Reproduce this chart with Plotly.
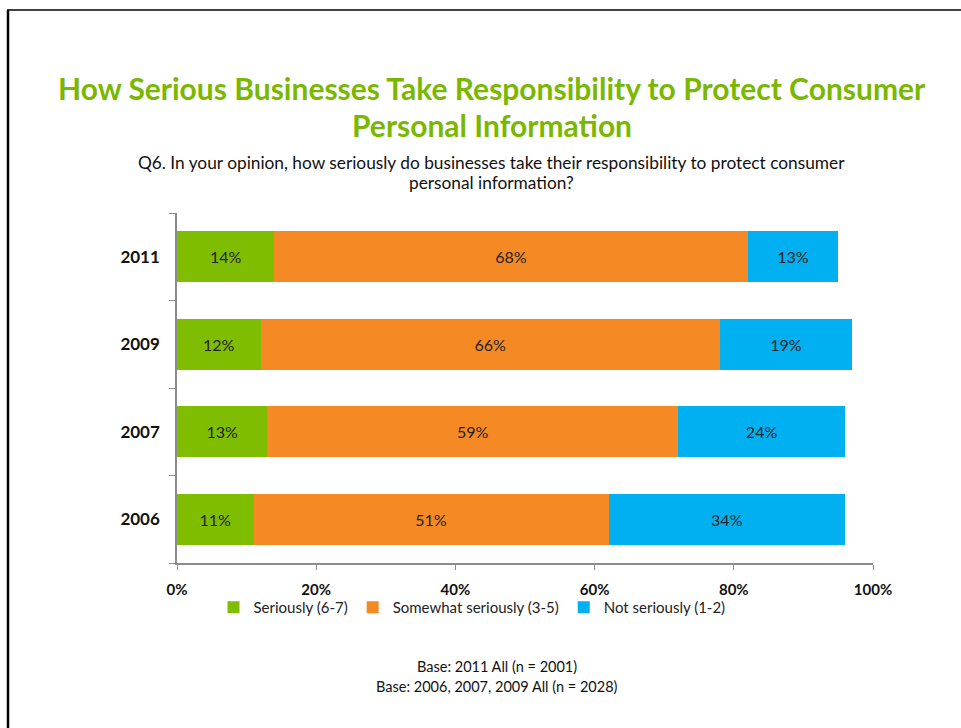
import plotly.graph_objects as go

# Survey results (percent of respondents)
years = ["2006", "2007", "2009", "2011"]
seriously = [11, 13, 12, 14]
somewhat = [51, 59, 66, 68]
not_seriously = [34, 24, 19, 13]

series = [
    ("Seriously (6-7)", seriously, "#7FBD00"),
    ("Somewhat seriously (3-5)", somewhat, "#F58A25"),
    ("Not seriously (1-2)", not_seriously, "#00B0F0"),
]

x_ticks = [0, 20, 40, 60, 80, 100]

FONT = "Lato"
W, H = 961, 728
L, R, T, B = 177, 88, 213, 165
PW, PH = W - L - R, H - T - B


def px(x):
    return (x - L) / PW


def py(y):
    return (H - B - y) / PH


fig = go.Figure()
for name, vals, color in series:
    fig.add_trace(go.Bar(
        y=years, x=vals, name=name, orientation="h",
        marker=dict(color=color, line=dict(width=0)),
        text=[f"{v}%" for v in vals], textposition="inside",
        insidetextanchor="middle", textangle=0, constraintext="none",
        textfont=dict(family=FONT, size=16, color="#222222"),
        hoverinfo="skip",
    ))

axis_color = "#8C8C8C"
fig.update_layout(
    width=W, height=H,
    margin=dict(l=L, r=R, t=T, b=B, pad=0),
    barmode="stack", bargap=0.42,
    paper_bgcolor="white", plot_bgcolor="white",
    font=dict(family=FONT, color="#000000"),
    showlegend=True,
    legend=dict(
        orientation="h", x=px(472), xanchor="center", y=py(591), yanchor="top",
        font=dict(family=FONT, size=15, color="#222222"),
        itemwidth=30, traceorder="normal", itemclick=False,
        bgcolor="rgba(0,0,0,0)", tracegroupgap=0,
    ),
    xaxis=dict(
        range=[0, 100], tickvals=x_ticks, ticktext=[f"{v}%" for v in x_ticks],
        showgrid=False, zeroline=False, showline=True, linecolor=axis_color,
        linewidth=1.5, ticks="outside", ticklen=5, tickcolor=axis_color,
        ticklabelstandoff=7,
        tickfont=dict(family=FONT, size=15, color="#111111", weight="bold"),
        fixedrange=True,
    ),
    yaxis=dict(
        categoryorder="array", categoryarray=years,
        showgrid=False, zeroline=False, showline=True, linecolor=axis_color,
        linewidth=1.5, ticks="outside", ticklen=6, tickcolor=axis_color,
        tickson="boundaries", ticklabelstandoff=12,
        tickfont=dict(family=FONT, size=17, color="#111111", weight="bold"),
        fixedrange=True,
    ),
)

annotations = [
    ("How Serious Businesses Take Responsibility to Protect Consumer", 492, 88, 30, "#7AB800", "bold"),
    ("Personal Information", 492, 125, 30, "#7AB800", "bold"),
    ("Q6. In your opinion, how seriously do businesses take their responsibility to protect consumer", 491, 162, 17.3, "#111111", "normal"),
    ("personal information?", 491, 182, 17.3, "#111111", "normal"),
    ("Base: 2011 All (n = 2001)", 497, 666, 14.5, "#111111", "normal"),
    ("Base: 2006, 2007, 2009 All (n = 2028)", 497, 686, 14.5, "#111111", "normal"),
]
for text, cx, cy, size, color, weight in annotations:
    fig.add_annotation(
        text=text, xref="paper", yref="paper", x=px(cx), y=py(cy),
        xanchor="center", yanchor="middle", showarrow=False,
        font=dict(family=FONT, size=size, color=color, weight=weight),
    )

# Slide frame
fig.add_shape(type="line", xref="paper", yref="paper",
              x0=px(8), x1=px(8), y0=py(10), y1=py(H + 5),
              line=dict(color="black", width=2.5), layer="above")
fig.add_shape(type="line", xref="paper", yref="paper",
              x0=px(7), x1=px(W + 5), y0=py(10), y1=py(10),
              line=dict(color="black", width=1.5), layer="above")

fig.write_html("out.html")
